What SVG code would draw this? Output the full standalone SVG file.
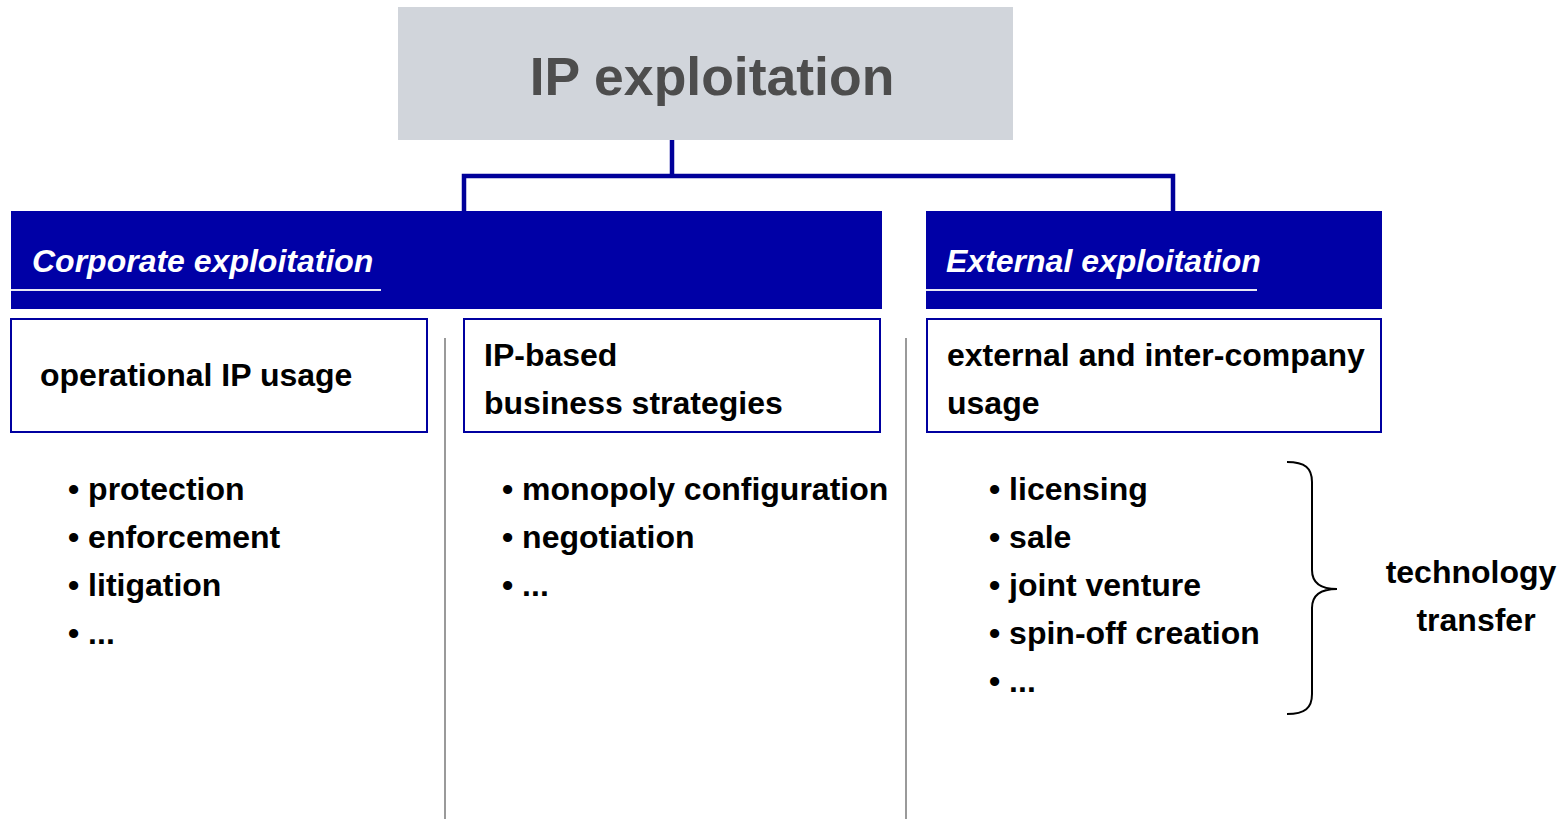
<svg xmlns="http://www.w3.org/2000/svg" width="1567" height="819" viewBox="0 0 1567 819">
<style>
.t{font-family:"Liberation Sans",Arial,sans-serif;font-weight:bold;font-size:32px;fill:#000}
.h{font-family:"Liberation Sans",Arial,sans-serif;font-weight:bold;font-style:italic;font-size:32px;fill:#fff}
.bar{fill:#0000a6}
.box{fill:#fff;stroke:#0000a0;stroke-width:2}
.conn{fill:none;stroke:#00009a;stroke-width:4.5}
.sep{stroke:#9a9a9a;stroke-width:2}
.ul{stroke:#e8e8f4;stroke-width:2}
</style>
<rect width="1567" height="819" fill="#fff"/>
<g id="connectors">
<path class="conn" d="M672,140 V176 M464,211 V176 H1173 V211"/>
</g>
<g id="root">
<rect x="398" y="7" width="615" height="133" fill="#d1d5db"/>
<text x="712" y="95" text-anchor="middle" style="font-family:'Liberation Sans',Arial,sans-serif;font-weight:bold;font-size:53.5px;fill:#4d4d4d">IP exploitation</text>
</g>
<g id="corporate">
<rect class="bar" x="11" y="211" width="871" height="98"/>
<line class="ul" x1="11" y1="290" x2="381" y2="290"/>
<text class="h" x="32" y="272">Corporate exploitation</text>
</g>
<g id="external">
<rect class="bar" x="926" y="211" width="456" height="98"/>
<line class="ul" x1="926" y1="290" x2="1257" y2="290"/>
<text class="h" x="946" y="272">External exploitation</text>
</g>
<g id="operational">
<rect class="box" x="11" y="319" width="416" height="113"/>
<text class="t" x="40" y="386">operational IP usage</text>
</g>
<g id="business">
<rect class="box" x="464" y="319" width="416" height="113"/>
<text class="t" x="484" y="366">IP-based</text>
<text class="t" x="484" y="414">business strategies</text>
</g>
<g id="externalusage">
<rect class="box" x="927" y="319" width="454" height="113"/>
<text class="t" x="947" y="366">external and inter-company</text>
<text class="t" x="947" y="414">usage</text>
</g>
<g id="separators">
<line class="sep" x1="445" y1="338" x2="445" y2="819"/>
<line class="sep" x1="906" y1="338" x2="906" y2="819"/>
</g>
<g id="list-operational">
<text class="t" x="68" y="500">• protection</text>
<text class="t" x="68" y="548">• enforcement</text>
<text class="t" x="68" y="596">• litigation</text>
<text class="t" x="68" y="644">• ...</text>
</g>
<g id="list-business">
<text class="t" x="502" y="500">• monopoly configuration</text>
<text class="t" x="502" y="548">• negotiation</text>
<text class="t" x="502" y="596">• ...</text>
</g>
<g id="list-external">
<text class="t" x="989" y="500">• licensing</text>
<text class="t" x="989" y="548">• sale</text>
<text class="t" x="989" y="596">• joint venture</text>
<text class="t" x="989" y="644">• spin-off creation</text>
<text class="t" x="989" y="692">• ...</text>
</g>
<g id="brace">
<path d="M1287,462 C1305,462 1312,468 1312,482 V570 C1312,582 1320,589 1337,589 C1320,589 1312,596 1312,608 V694 C1312,708 1305,714 1287,714" fill="none" stroke="#000" stroke-width="2"/>
</g>
<g id="techtransfer">
<text class="t" x="1471" y="583" text-anchor="middle">technology</text>
<text class="t" x="1476" y="631" text-anchor="middle">transfer</text>
</g>
</svg>
